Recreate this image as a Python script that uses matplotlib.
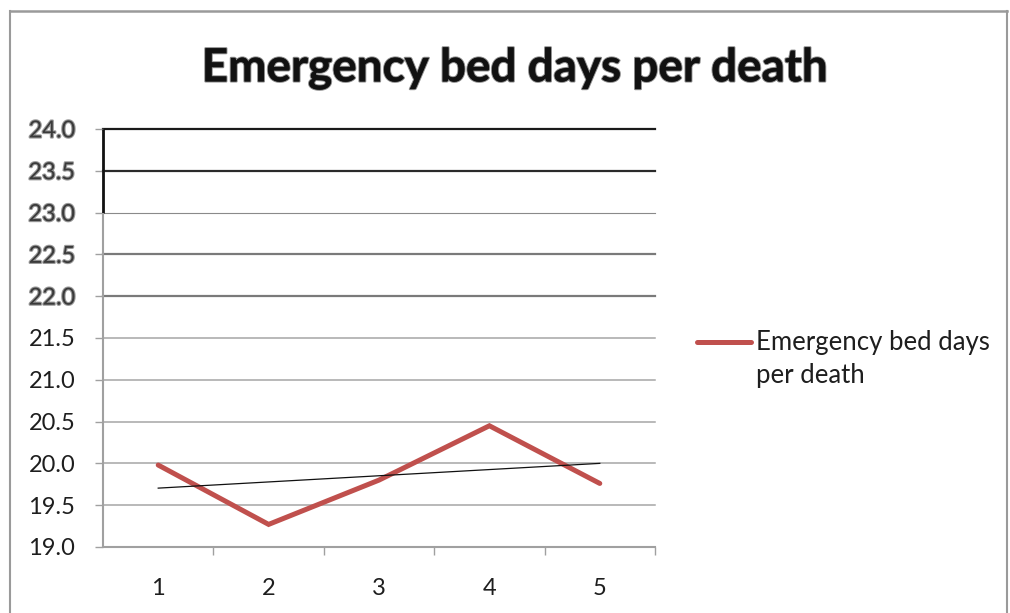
import numpy as np
import matplotlib
matplotlib.use("Agg")
import matplotlib.pyplot as plt
from matplotlib.lines import Line2D
import matplotlib.patheffects as pe

plt.rcParams['font.family'] = ['Lato', 'DejaVu Sans']

# Data
periods = [1, 2, 3, 4, 5]
bed_days = [19.98, 19.27, 19.80, 20.45, 19.76]
y_ticks = [19.0, 19.5, 20.0, 20.5, 21.0, 21.5, 22.0, 22.5, 23.0, 23.5, 24.0]
title = "Emergency bed days per death"
legend_lines = ["Emergency bed days", "per death"]

fig = plt.figure(figsize=(10.1, 6.13), dpi=100)
ax = fig.add_axes([0.102, 0.1077, 0.5465, 0.6819])

ax.set_xlim(0.5, 5.5)
ax.set_ylim(19.0, 24.0)

# Gridlines: heavy dark/grey bands at the top, light grey below
grid_style = {
    24.0: ('#1a1a1a', 1.6),
    23.5: ('#2a2a2a', 1.6),
    23.0: ('#8a8a8a', 0.8),
    22.5: ('#7a7a7a', 1.6),
    22.0: ('#7a7a7a', 1.6),
}
for yv in y_ticks:
    if yv == 19.0:
        continue
    c, lw = grid_style.get(yv, ('#a6a6a6', 1.1))
    ax.axhline(yv, color=c, lw=lw, zorder=1, clip_on=False)

# Left axis: dark in the top section, grey below
ax.spines['left'].set_visible(False)
ax.plot([0.5, 0.5], [23.0, 24.0], color='#111111', lw=2.0, clip_on=False,
        solid_capstyle='butt', zorder=3)
ax.plot([0.5, 0.5], [19.0, 23.0], color='#a0a0a0', lw=1.5, clip_on=False,
        solid_capstyle='butt', zorder=3)
for s in ['top', 'right']:
    ax.spines[s].set_visible(False)
ax.spines['bottom'].set_color('#a0a0a0')
ax.spines['bottom'].set_linewidth(1.5)

# Series and its linear trend
ax.plot(periods, bed_days, color='#C0504D', lw=3.6, solid_capstyle='round',
        solid_joinstyle='miter', zorder=4)
coef = np.polyfit(periods, bed_days, 1)
ax.plot(periods[::4], np.polyval(coef, periods[::4]), color='#111111', lw=0.9, zorder=5)

# Ticks
ax.set_yticks(y_ticks)
ax.set_yticklabels([f"{v:.1f}" for v in y_ticks])
ax.tick_params(axis='y', length=6, width=1, color='#a0a0a0', pad=14,
               labelsize=17, labelcolor='#1e1e1e')
for lab, v in zip(ax.get_yticklabels(), y_ticks):
    if v >= 22.0:
        lab.set_color('#3a3a3a')
        lab.set_path_effects([pe.withStroke(linewidth=1.6, foreground='#9a9a9a')])

ax.set_xticks(periods)
ax.set_xticklabels([str(p) for p in periods])
ax.set_xticks([1.5, 2.5, 3.5, 4.5, 5.5], minor=True)
ax.tick_params(axis='x', which='major', length=0, pad=22, labelsize=17,
               labelcolor='#1e1e1e')
ax.tick_params(axis='x', which='minor', length=6, width=1, color='#a0a0a0')

# Title
fig.text(0.51, 0.888, title, ha='center', va='center', fontsize=33,
         fontweight='bold', color='#111111',
         path_effects=[pe.withStroke(linewidth=1.6, foreground='#8a8a8a'), pe.Normal()])

# Legend
fig.add_artist(Line2D([0.690, 0.744], [0.442, 0.442], color='#C0504D', lw=3.6,
                      solid_capstyle='round', transform=fig.transFigure))
fig.text(0.749, 0.442, legend_lines[0], ha='left', va='center',
         fontsize=18.5, color='#1e1e1e')
fig.text(0.749, 0.387, legend_lines[1], ha='left', va='center',
         fontsize=18.5, color='#1e1e1e')

# Chart-area border
fig.add_artist(Line2D([0.010, 0.997], [0.982, 0.982], color='#9a9a9a', lw=1.8,
                      transform=fig.transFigure))
fig.add_artist(Line2D([0.010, 0.010], [0.0, 0.982], color='#9a9a9a', lw=1.5,
                      transform=fig.transFigure))
fig.add_artist(Line2D([0.997, 0.997], [0.0, 0.982], color='#9a9a9a', lw=1.5,
                      transform=fig.transFigure))

fig.savefig("out.png", dpi=100)
